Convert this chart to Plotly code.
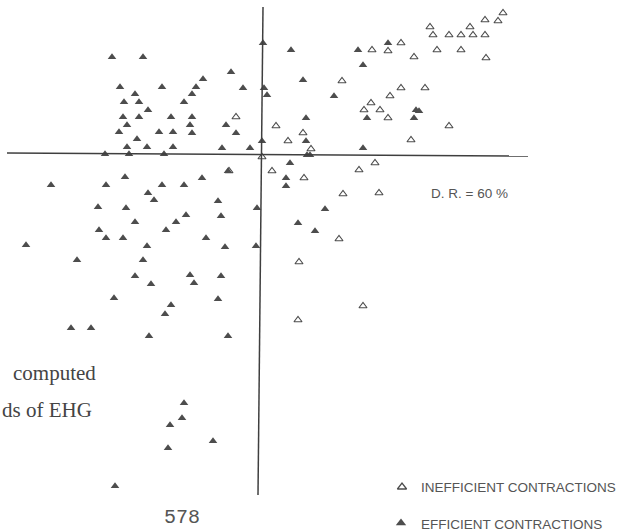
import plotly.graph_objects as go

# Discriminant scores
eff_x = [-1.50, -1.19, -0.31, -0.59, -1.42, -1.00, -0.66, -0.19, 0.02, 0.05,
         -1.27, -0.70, -1.38, -1.23, -0.78, -1.14, -1.39, -1.23, -0.91, -0.70,
         -1.35, -0.72, -0.36, -1.43, -1.03, -0.89, -0.70, -0.26, -1.25, 0.00,
         -1.35, -1.15, -0.89, -0.40, -0.12, -1.57, -1.33, -0.98, 0.01,
         0.29, 0.96, 1.26, 1.01, 0.41, 0.72, 1.54, 1.57, 0.44, 1.05, 1.52,
         0.44, 1.01, 0.45, 0.48,
         0.28, 0.24, 0.24, 0.63, 0.36, 0.53,
         -0.34, -1.37, -0.60, -2.11, -1.56, -1.00, -0.78, -1.14, -1.08, -0.44,
         -1.64, -1.36, -0.05, -0.76, -0.41, -1.27, -0.86, -1.63, -0.96, -1.56,
         -1.39, -0.56, -2.36, -1.15, -0.37, -0.06, -1.85, -1.19, -1.27, -0.72,
         -0.41, -1.11, -0.68, -1.48, -0.44, -0.91, -0.97, -1.91, -1.71, -1.13,
         -0.34, -0.78, -0.80, -0.92, -0.49, -0.94, -1.47]
eff_y = [0.97, 0.97, 0.82, 0.75, 0.67, 0.67, 0.67, 0.66, 0.66, 0.59,
         0.60, 0.60, 0.52, 0.52, 0.52, 0.44, 0.37, 0.37, 0.37, 0.37,
         0.29, 0.29, 0.29, 0.22, 0.22, 0.22, 0.21, 0.21, 0.15, 0.13,
         0.07, 0.07, 0.07, 0.06, 0.06, 0.00, 0.00, 0.00, 1.11,
         1.04, 1.04, 1.11, 0.89, 0.74, 0.58, 0.44, 0.43, 0.36, 0.36, 0.36,
         0.13, 0.06, -0.01, -0.01,
         -0.09, -0.24, -0.32, -0.55, -0.69, -0.77,
         -0.17, -0.23, -0.24, -0.31, -0.31, -0.31, -0.31, -0.39, -0.46, -0.47,
         -0.53, -0.54, -0.54, -0.61, -0.62, -0.68, -0.68, -0.76, -0.76, -0.84,
         -0.84, -0.84, -0.91, -0.92, -0.93, -0.92, -1.06, -1.06, -1.22, -1.21,
         -1.22, -1.30, -1.29, -1.44, -1.45, -1.51, -1.60, -1.74, -1.74, -1.82,
         -1.82, -2.49, -2.64, -2.71, -2.87, -2.94, -3.32]

ineff_x = [-0.26, 0.00, 1.10, 1.26, 1.39, 1.52, 1.68, 1.71, 1.75, 1.87,
           1.99, 1.99, 2.08, 2.11, 2.23, 2.23, 2.24, 2.36, 2.41, 0.80,
           1.39, 1.63, 1.28, 1.09, 1.02, 1.18, 1.26, 0.14, 1.87, 0.41,
           0.26, 1.49, 0.49, 1.13, 0.10, 0.97, 0.42, 0.81, 1.17, 0.77,
           0.37, 1.01, 0.36, -0.33]
ineff_y = [0.37, -0.03, 1.04, 1.03, 1.11, 0.97, 1.27, 1.19, 1.04, 1.19,
           1.19, 1.04, 1.27, 1.19, 1.34, 1.19, 0.96, 1.33, 1.41, 0.73,
           0.66, 0.66, 0.58, 0.51, 0.44, 0.44, 0.36, 0.28, 0.28, 0.21,
           0.13, 0.14, 0.05, -0.09, -0.17, -0.16, -0.24, -0.40, -0.39, -0.85,
           -1.08, -1.52, -1.66, -0.17]

legend_labels = ["INEFFICIENT CONTRACTIONS", "EFFICIENT CONTRACTIONS"]
dr_label = "D. R. = 60 %"

GREY = "#4d4d4d"
AX = "#3f3f3f"

fig = go.Figure()
fig.add_trace(go.Scatter(x=eff_x, y=eff_y, mode="markers",
                         marker=dict(symbol="triangle-up", size=7.5, color=GREY, line=dict(width=0)),
                         showlegend=False))
fig.add_trace(go.Scatter(x=ineff_x, y=ineff_y, mode="markers",
                         marker=dict(symbol="triangle-up-open", size=7, color=GREY, line=dict(width=1.1)),
                         showlegend=False))

# Legend keys on a pixel-like overlay axis
fig.add_trace(go.Scatter(x=[402], y=[487], mode="markers", xaxis="x2", yaxis="y2",
                         marker=dict(symbol="triangle-up-open", size=8, color=GREY, line=dict(width=1.3)),
                         showlegend=False))
fig.add_trace(go.Scatter(x=[401], y=[523], mode="markers", xaxis="x2", yaxis="y2",
                         marker=dict(symbol="triangle-up", size=9, color=GREY),
                         showlegend=False))

# Axis lines (the two discriminant axes)
fig.add_shape(type="line", x0=-2.55, y0=0.01, x1=2.66, y1=-0.02,
              line=dict(color=AX, width=1.5))
fig.add_shape(type="line", x0=0.01, y0=1.47, x1=-0.04, y1=-3.41,
              line=dict(color=AX, width=1.5))

lab_font = dict(family="Liberation Sans", size=13.5, color="#555555")
fig.add_annotation(x=469, y=193, xref="x2", yref="y2", text=dr_label,
                   showarrow=False, font=lab_font)
fig.add_annotation(x=419, y=487, xref="x2", yref="y2", text=legend_labels[0],
                   showarrow=False, xanchor="left", font=lab_font)
fig.add_annotation(x=419, y=524, xref="x2", yref="y2", text=legend_labels[1],
                   showarrow=False, xanchor="left", font=lab_font)

serif = dict(family="Liberation Serif", size=21, color="#444444")
fig.add_annotation(x=98, y=373, xref="x2", yref="y2", text="computed",
                   showarrow=False, xanchor="right", font=serif)
fig.add_annotation(x=94, y=410, xref="x2", yref="y2", text="ds of EHG",
                   showarrow=False, xanchor="right", font=serif)
fig.add_annotation(x=182, y=531, xref="x2", yref="y2", text="578",
                   showarrow=False, yanchor="bottom",
                   font=dict(family="Liberation Mono", size=20, color="#555555"))

fig.update_layout(
    width=620, height=532,
    margin=dict(l=0, r=0, t=0, b=0),
    paper_bgcolor="white", plot_bgcolor="white",
    xaxis=dict(range=[-2.62, 3.58], visible=False, fixedrange=True),
    yaxis=dict(range=[-3.78, 1.54], visible=False, fixedrange=True),
    xaxis2=dict(range=[0, 620], overlaying="x", visible=False, fixedrange=True),
    yaxis2=dict(range=[532, 0], overlaying="y", visible=False, fixedrange=True),
    showlegend=False,
)

fig.write_html("out.html", config={"displayModeBar": False},
               post_script="document.body.style.margin='0px';document.body.style.overflow='hidden';")
